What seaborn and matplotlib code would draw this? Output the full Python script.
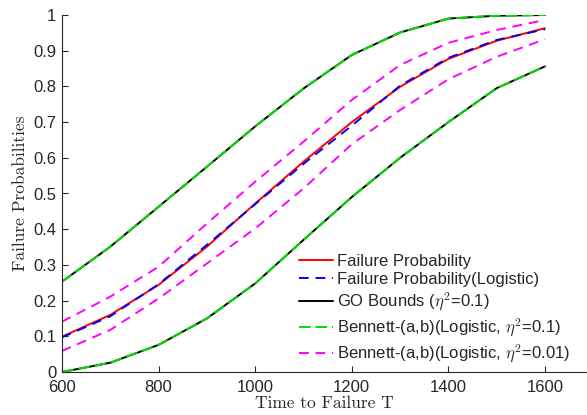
"""
Failure probability vs time-to-failure with GO / Bennett bounds.
"""
import numpy as np
import pandas as pd
import matplotlib
matplotlib.use("Agg")
import matplotlib.pyplot as plt
import seaborn as sns

# time grid
time_t = [600, 700, 800, 900, 1000, 1100, 1200, 1300, 1400, 1500, 1600]

# series
failure_prob = [0.099, 0.160, 0.244, 0.351, 0.472, 0.589, 0.700, 0.799, 0.877, 0.928, 0.963]
failure_prob_logistic = [0.097, 0.156, 0.246, 0.356, 0.470, 0.583, 0.690, 0.802, 0.880, 0.930, 0.960]
go_upper = [0.253, 0.351, 0.463, 0.575, 0.688, 0.794, 0.888, 0.951, 0.990, 0.998, 1.000]
go_lower = [0.000, 0.026, 0.076, 0.150, 0.248, 0.370, 0.490, 0.600, 0.700, 0.795, 0.856]
bennett01_upper = [0.253, 0.351, 0.463, 0.575, 0.688, 0.794, 0.888, 0.951, 0.990, 0.998, 1.000]
bennett01_lower = [0.000, 0.026, 0.076, 0.150, 0.248, 0.370, 0.490, 0.600, 0.700, 0.795, 0.856]
bennett001_upper = [0.141, 0.211, 0.295, 0.416, 0.533, 0.645, 0.762, 0.860, 0.922, 0.958, 0.986]
bennett001_lower = [0.059, 0.118, 0.206, 0.304, 0.402, 0.514, 0.638, 0.734, 0.820, 0.883, 0.932]

x_ticks = [600, 800, 1000, 1200, 1400, 1600]
y_ticks = [0, 0.1, 0.2, 0.3, 0.4, 0.5, 0.6, 0.7, 0.8, 0.9, 1]
y_ticklabels = ["0", "0.1", "0.2", "0.3", "0.4", "0.5", "0.6", "0.7", "0.8", "0.9", "1"]

sns.set_style("ticks")
plt.rcParams["font.family"] = ["Liberation Sans", "DejaVu Sans"]
plt.rcParams["mathtext.fontset"] = "cm"

dark = "#262626"

fig = plt.figure(figsize=(5.87, 4.15), dpi=100)
ax = fig.add_axes([62 / 587, 1 - 372 / 415, 1 - 62 / 587, (372 - 15) / 415])

df = pd.DataFrame({
    "t": time_t,
    "fp": failure_prob,
    "fp_log": failure_prob_logistic,
    "go_u": go_upper,
    "go_l": go_lower,
    "b01_u": bennett01_upper,
    "b01_l": bennett01_lower,
    "b001_u": bennett001_upper,
    "b001_l": bennett001_lower,
})

lw = 1.4
sns.lineplot(data=df, x="t", y="go_u", ax=ax, color="black", lw=lw, label="GO Bounds ($\\eta^2$=0.1)")
sns.lineplot(data=df, x="t", y="go_l", ax=ax, color="black", lw=lw)
sns.lineplot(data=df, x="t", y="b01_u", ax=ax, color="#00e000", lw=lw,
             linestyle=(0, (6, 2.5)), label="Bennett-(a,b)(Logistic, $\\eta^2$=0.1)")
sns.lineplot(data=df, x="t", y="b01_l", ax=ax, color="#00e000", lw=lw, linestyle=(0, (6, 2.5)))
sns.lineplot(data=df, x="t", y="b001_u", ax=ax, color="magenta", lw=lw,
             linestyle=(0, (5, 3.5)), label="Bennett-(a,b)(Logistic, $\\eta^2$=0.01)")
sns.lineplot(data=df, x="t", y="b001_l", ax=ax, color="magenta", lw=lw, linestyle=(0, (5, 3.5)))
sns.lineplot(data=df, x="t", y="fp", ax=ax, color="red", lw=lw, label="Failure Probability")
sns.lineplot(data=df, x="t", y="fp_log", ax=ax, color="blue", lw=lw,
             linestyle=(0, (5, 3.5)), label="Failure Probability(Logistic)")

ax.set_xlim(600, 1687)
ax.set_ylim(0, 1)
ax.set_xticks(x_ticks)
ax.set_yticks(y_ticks)
ax.set_yticklabels(y_ticklabels)
ax.tick_params(direction="in", length=4, width=0.8, colors=dark, labelsize=12)
ax.tick_params(axis="x", pad=6)
ax.tick_params(axis="y", pad=4)
sns.despine(ax=ax)
for s in ("left", "bottom"):
    ax.spines[s].set_color(dark)
    ax.spines[s].set_linewidth(0.8)

ax.set_xlabel("Time to Failure T", family="cmr10", fontsize=12.5, color=dark, labelpad=0)
ax.set_ylabel("Failure Probabilities", family="cmr10", fontsize=12.5, color=dark, labelpad=4)

handles, labels = ax.get_legend_handles_labels()
order = ["Failure Probability", "Failure Probability(Logistic)", "GO Bounds ($\\eta^2$=0.1)",
         "Bennett-(a,b)(Logistic, $\\eta^2$=0.1)", "Bennett-(a,b)(Logistic, $\\eta^2$=0.01)"]
hmap = dict(zip(labels, handles))
ax.legend([hmap[k] for k in order], order, loc="lower left", bbox_to_anchor=(0.452, 0.02),
          frameon=False, fontsize=12, handlelength=2.0, handletextpad=0.25,
          labelspacing=0.22, borderpad=0, borderaxespad=0)

fig.savefig("out.png", dpi=100)
